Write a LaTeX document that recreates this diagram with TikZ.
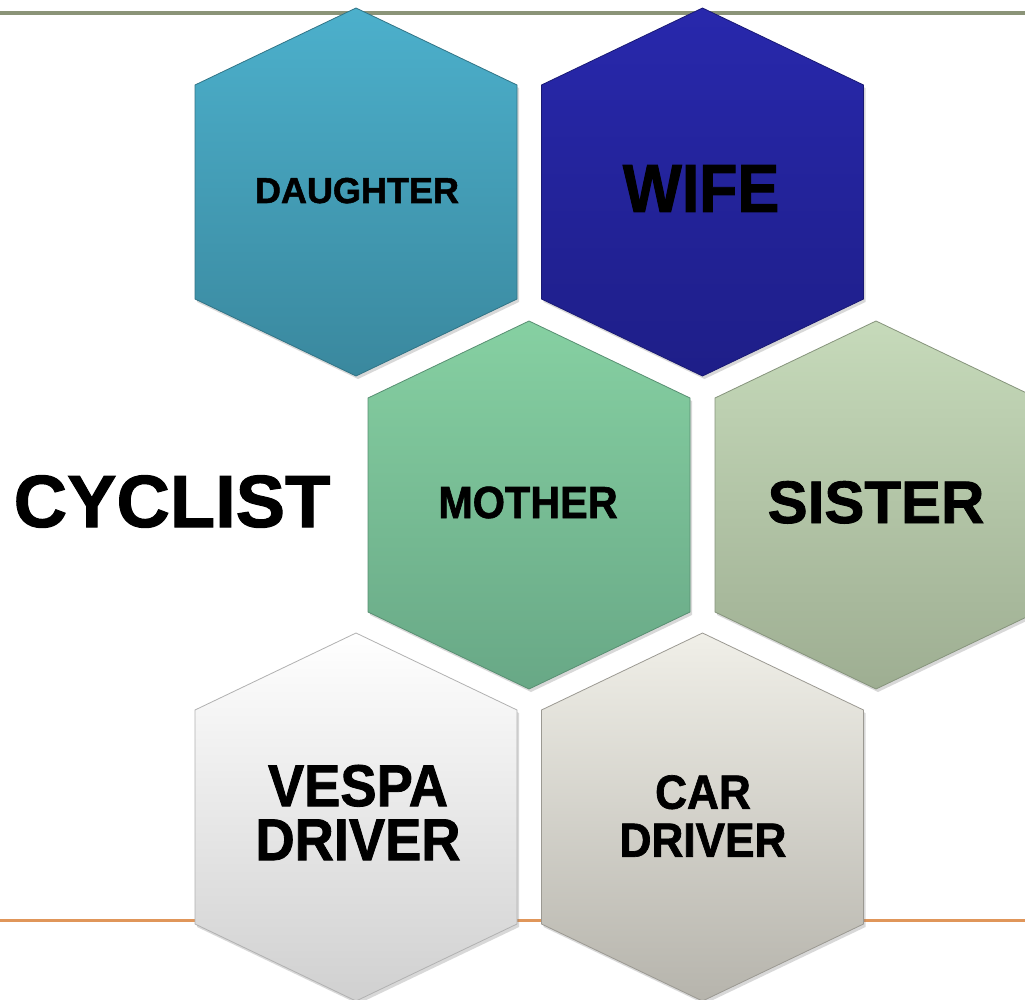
\documentclass[tikz,border=0pt]{standalone}
\usepackage{fontspec}
\setmainfont{Liberation Sans}[BoldFeatures={FakeBold=1.4}]
\newfontfamily\Squeezed{Liberation Sans}[FakeStretch=0.92,
    BoldFeatures={FakeBold=1.4}]
\usepackage{xcolor}
\definecolor{RuleTop}{RGB}{139,148,120}
\definecolor{RuleBot}{RGB}{224,150,90}
\definecolor{DauTop}{RGB}{76,176,204}
\definecolor{DauBot}{RGB}{58,136,158}
\definecolor{WifTop}{RGB}{40,40,172}
\definecolor{WifBot}{RGB}{30,30,136}
\definecolor{MotTop}{RGB}{134,208,162}
\definecolor{MotBot}{RGB}{104,168,134}
\definecolor{SisTop}{RGB}{198,218,186}
\definecolor{SisBot}{RGB}{158,174,146}
\definecolor{VesTop}{RGB}{255,255,255}
\definecolor{VesBot}{RGB}{208,208,208}
\definecolor{CarTop}{RGB}{240,239,232}
\definecolor{CarBot}{RGB}{182,180,172}
\usepackage{tikz}
\usetikzlibrary{shadows}
\tikzstyle{Cell}=[line width=0.8pt,
drop shadow={opacity=.3,shadow xshift=2pt,shadow yshift=-3pt}]
\tikzstyle{HexPath}=[insert path={++(0,-184) -- ++(161,77) -- ++(0,214)
    -- ++(-161,77) -- ++(-161,-77) -- ++(0,-214) -- cycle}]
\tikzstyle{Label}=[inner sep=0pt,text=black]
\tikzstyle{Rule}=[line width=4pt]

\begin{document}
\begin{tikzpicture}[x=1pt,y=-1pt]
        \fill[white](0,0)rectangle(1025,1000);
        \useasboundingbox(0,0)rectangle(1025,1000);
        \coordinate(tl)at(0,13);
        \coordinate(tr)at(1025,13);
        \coordinate(bl)at(0,920);
        \coordinate(br)at(1025,920);
        \draw[Rule,RuleTop](tl)--(tr);
        \draw[Rule,line width=3pt,RuleBot](bl)--(br);
        \draw[Cell,draw=DauBot!85!black,top color=DauTop,bottom color=DauBot]
            (356,192)[HexPath];
        \draw[Cell,draw=WifBot!85!black,top color=WifTop,bottom color=WifBot]
            (702.5,192)[HexPath];
        \draw[Cell,draw=MotBot!85!black,top color=MotTop,bottom color=MotBot]
            (529,505)[HexPath];
        \draw[Cell,draw=SisBot!85!black,top color=SisTop,bottom color=SisBot]
            (876,505)[HexPath];
        \draw[Cell,draw=VesBot!85!black,top color=VesTop,bottom color=VesBot]
            (356,817)[HexPath];
        \draw[Cell,draw=CarBot!85!black,top color=CarTop,bottom color=CarBot]
            (702.5,817)[HexPath];
        \node[Label,anchor=base,font=\bfseries\fontsize{74}{74}\selectfont]
            (cyclist)at(172,527){CYCLIST};
        \node[Label,anchor=base,font=\bfseries\fontsize{36}{36}\selectfont]
            (daughter)at(357,203){DAUGHTER};
        \node[Label,anchor=base,
            font=\Squeezed\bfseries\fontsize{68}{68}\selectfont]
            (wife)at(701,212){WIFE};
        \node[Label,anchor=base,
            font=\Squeezed\bfseries\fontsize{45}{45}\selectfont]
            (mother)at(528,518){MOTHER};
        \node[Label,anchor=base,font=\bfseries\fontsize{60}{60}\selectfont]
            (sister)at(876,523){SISTER};
        \node[Label,align=center,
            font=\Squeezed\bfseries\fontsize{59}{54}\selectfont]
            (vespa)at(358,812.5){VESPA\\DRIVER};
        \node[Label,align=center,
            font=\Squeezed\bfseries\fontsize{48}{48}\selectfont]
            (car)at(703,816){CAR\\DRIVER};
    \end{tikzpicture}
\end{document}
